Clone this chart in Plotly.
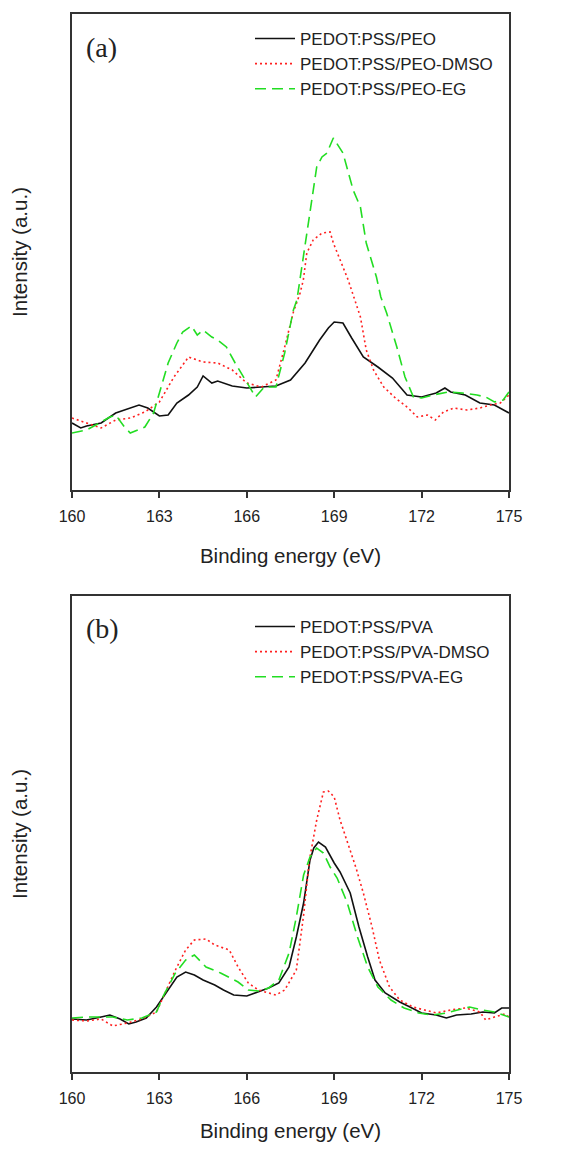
import plotly.graph_objects as go

# ---------------- Panel (a): PEO series ----------------
a_peo_x = [160, 160.3, 160.5, 161, 161.5, 162, 162.3, 162.6, 163, 163.3, 163.6, 164, 164.3, 164.5,
           164.8, 165, 165.5, 166, 166.5, 167, 167.5, 168, 168.5, 168.8, 169, 169.3, 169.6, 170,
           170.5, 171, 171.5, 172, 172.5, 172.8, 173, 173.5, 174, 174.5, 175]
a_peo_y = [67, 62, 64, 67, 77, 82, 85, 82, 74, 75, 87, 95, 103, 114,
           107, 109, 104, 102, 103, 104, 110, 127, 150, 162, 168, 167, 152, 133,
           123, 112, 95, 93, 97, 102, 98, 95, 87, 85, 77]

a_dmso_x = [160, 160.5, 161, 161.5, 162, 162.5, 163, 163.5, 164, 164.5, 165, 165.5, 166, 166.5,
            167, 167.3, 167.6, 167.83, 167.94, 168.06, 168.28, 168.58, 168.86, 168.97, 169.2,
            169.48, 169.65, 169.9, 170.1, 170.35, 170.7, 171.1, 171.5, 171.85, 172.2, 172.47,
            172.75, 173.1, 173.55, 174, 174.35, 174.7, 175]
a_dmso_y = [72, 67, 62, 70, 72, 78, 88, 113, 133, 128, 127, 120, 107, 103,
            110, 143, 178, 197, 210, 237, 250, 257, 258, 247, 230,
            210, 195, 173, 140, 120, 103, 92, 83, 73, 75, 70,
            78, 82, 80, 82, 85, 87, 95]

a_eg_x = [160, 160.5, 161, 161.3, 161.5, 161.8, 162, 162.5, 162.8, 163, 163.3, 163.6, 163.8,
          164.1, 164.3, 164.5, 164.8, 165, 165.3, 165.6, 166, 166.3, 166.6, 167, 167.3, 167.6,
          167.72, 168.06, 168.4, 168.58, 168.75, 168.97, 169.3, 169.65, 169.9, 170.1, 170.45,
          170.6, 170.8, 171.15, 171.43, 171.72, 172, 172.4, 172.9, 173.4, 173.9, 174.2, 174.5,
          174.8, 175]
a_eg_y = [57, 60, 68, 73, 75, 63, 57, 63, 77, 97, 127, 147, 158,
          164, 155, 160, 153, 150, 143, 127, 107, 93, 103, 103, 137, 180,
          190, 257, 323, 333, 337, 352, 337, 300, 283, 247, 213,
          193, 177, 143, 113, 93, 92, 95, 98, 97, 95, 93, 88,
          90, 98]

# ---------------- Panel (b): PVA series ----------------
b_pva_x = [160, 160.5, 161, 161.3, 161.65, 161.95, 162.2, 162.55, 162.9, 163.25, 163.6, 163.9,
           164.2, 164.5, 164.9, 165.2, 165.55, 166, 166.4, 166.75, 167.1, 167.45, 167.7, 167.95,
           168.17, 168.3, 168.46, 168.7, 169.0, 169.2, 169.55, 169.85, 170.15, 170.4, 170.75,
           171.25, 171.6, 172, 172.5, 172.85, 173.2, 173.7, 174.1, 174.5, 174.75, 175]
b_pva_y = [53, 52, 55, 57, 53, 48, 50, 54, 65, 80, 95, 100,
           97, 92, 87, 82, 77, 76, 80, 84, 89, 105, 135, 169,
           212, 224, 230, 225, 209, 200, 179, 145, 115, 92, 79,
           70, 65, 59, 57, 54, 57, 58, 60, 59, 64, 64]

b_dmso_x = [160, 160.5, 161, 161.4, 161.9, 162.4, 162.9, 163.2, 163.55, 163.9, 164.2, 164.6,
            164.9, 165.4, 165.7, 166.05, 166.4, 166.75, 167, 167.3, 167.7, 167.95, 168.15, 168.4,
            168.63, 168.8, 169.0, 169.2, 169.5, 169.75, 170.0, 170.3, 170.55, 170.9, 171.25,
            171.7, 172.1, 172.5, 173, 173.5, 174, 174.2, 174.5, 174.85, 175]
b_dmso_y = [52, 51, 53, 46, 49, 53, 60, 79, 102, 122, 132, 133,
            127, 122, 105, 89, 82, 79, 77, 82, 102, 157, 212, 252,
            280, 281, 275, 252, 225, 204, 179, 145, 112, 85, 72,
            65, 62, 59, 62, 64, 60, 52, 55, 58, 55]

b_eg_x = [160, 160.5, 161, 161.4, 161.9, 162.4, 162.9, 163.15, 163.55, 163.9, 164.2, 164.6,
          165.1, 165.7, 166.05, 166.4, 166.75, 167.1, 167.45, 167.7, 167.95, 168.17, 168.4,
          168.63, 168.86, 169.1, 169.45, 169.8, 170.15, 170.5, 170.95, 171.4, 171.9, 172.35,
          172.85, 173.3, 173.65, 174.1, 174.5, 175]
b_eg_y = [54, 55, 55, 55, 52, 54, 60, 77, 99, 112, 117, 105,
          99, 90, 82, 81, 84, 92, 119, 155, 197, 215, 224,
          219, 205, 194, 169, 135, 105, 85, 72, 64, 59, 57,
          59, 62, 65, 62, 60, 55]

x_ticks = [160, 163, 166, 169, 172, 175]
names_a = ["PEDOT:PSS/PEO", "PEDOT:PSS/PEO-DMSO", "PEDOT:PSS/PEO-EG"]
names_b = ["PEDOT:PSS/PVA", "PEDOT:PSS/PVA-DMSO", "PEDOT:PSS/PVA-EG"]

BLACK = "#111111"
RED = "#ff2020"
GREEN = "#22dd22"
styles = [dict(color=BLACK, width=1.6, dash="solid"),
          dict(color=RED, width=1.6, dash="2px,3px"),
          dict(color=GREEN, width=1.6, dash="11px,6px")]

fig = go.Figure()
for (xs, ys), name, st in zip([(a_peo_x, a_peo_y), (a_dmso_x, a_dmso_y), (a_eg_x, a_eg_y)], names_a, styles):
    fig.add_trace(go.Scatter(x=xs, y=ys, mode="lines", name=name, line=st,
                             xaxis="x", yaxis="y", legend="legend"))
for (xs, ys), name, st in zip([(b_pva_x, b_pva_y), (b_dmso_x, b_dmso_y), (b_eg_x, b_eg_y)], names_b, styles):
    fig.add_trace(go.Scatter(x=xs, y=ys, mode="lines", name=name, line=st,
                             xaxis="x2", yaxis="y2", legend="legend2"))

# page has an 8px body margin, so the figure is sized to fit inside it
W, H = 558, 1134
ML, MR, MT, MB = 64, 57, 6, 70
plot_h = H - MT - MB
dom_a = [(1072 - 490) / plot_h, 1.0]
dom_b = [0.0, (1072 - 596) / plot_h]

axis_font = dict(family="Liberation Sans, Arial, sans-serif", size=16, color="#222")
title_font = dict(family="Liberation Sans, Arial, sans-serif", size=20.5, color="#222")

def xaxis_cfg(anchor):
    return dict(range=[160, 175], tickvals=x_ticks, ticktext=[str(t) for t in x_ticks],
                ticks="outside", ticklen=6, tickwidth=1.5, tickcolor="#333",
                showline=True, linecolor="#333", linewidth=1.5, mirror=True,
                showgrid=False, zeroline=False, tickfont=axis_font,
                ticklabelstandoff=5, automargin=False,
                title=dict(text="Binding energy (eV)", font=title_font, standoff=25),
                anchor=anchor)

def yaxis_cfg(domain, anchor):
    return dict(domain=domain, range=[0, 476], showticklabels=False, ticks="",
                showline=True, linecolor="#333", linewidth=1.5, mirror=True,
                showgrid=False, zeroline=False, anchor=anchor, automargin=False,
                title=dict(text="Intensity (a.u.)", font=title_font, standoff=37))

legend_font = dict(family="Liberation Sans, Arial, sans-serif", size=17, color="#222")

fig.update_layout(
    width=W, height=H,
    margin=dict(l=ML, r=MR, t=MT, b=MB),
    paper_bgcolor="white", plot_bgcolor="white",
    xaxis=xaxis_cfg("y"),
    yaxis=yaxis_cfg(dom_a, "x"),
    xaxis2=xaxis_cfg("y2"),
    yaxis2=yaxis_cfg(dom_b, "x2"),
    legend=dict(x=(250 - 72) / 437, y=(1072 - 21) / plot_h, xanchor="left", yanchor="top",
                font=legend_font, bgcolor="rgba(0,0,0,0)", tracegroupgap=0, itemwidth=40),
    legend2=dict(x=(250 - 72) / 437, y=(1072 - 609) / plot_h, xanchor="left", yanchor="top",
                 font=legend_font, bgcolor="rgba(0,0,0,0)", tracegroupgap=0, itemwidth=40),
    showlegend=True,
    annotations=[
        dict(text="(a)", x=(84 - 72) / 437, y=(1072 - 48) / plot_h, xref="paper", yref="paper",
             xanchor="left", yanchor="middle", showarrow=False,
             font=dict(family="Liberation Serif, Times New Roman, serif", size=28, color="#222")),
        dict(text="(b)", x=(84 - 72) / 437, y=(1072 - 628) / plot_h, xref="paper", yref="paper",
             xanchor="left", yanchor="middle", showarrow=False,
             font=dict(family="Liberation Serif, Times New Roman, serif", size=28, color="#222")),
    ],
)

fig.write_html("out.html")
